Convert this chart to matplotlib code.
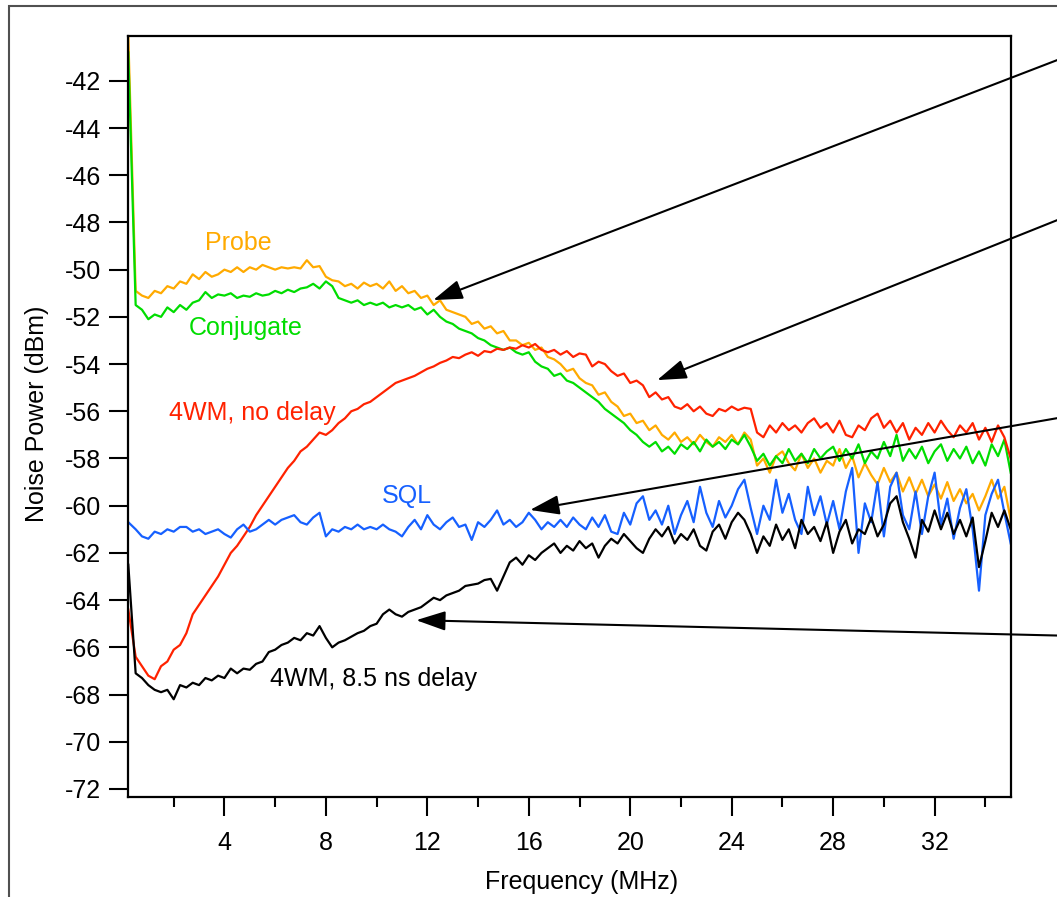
import matplotlib
matplotlib.use("Agg")
import matplotlib.pyplot as plt
from matplotlib.ticker import MultipleLocator

plt.rcParams['font.family'] = ['Liberation Sans', 'DejaVu Sans']
plt.rcParams['axes.unicode_minus'] = False

# frequency grid (MHz): first sample, then every 0.25 MHz
freq = [0.21, 0.5, 0.75,
        1.0, 1.25, 1.5, 1.75, 2.0, 2.25, 2.5, 2.75, 3.0, 3.25, 3.5, 3.75,
        4.0, 4.25, 4.5, 4.75, 5.0, 5.25, 5.5, 5.75, 6.0, 6.25, 6.5, 6.75,
        7.0, 7.25, 7.5, 7.75, 8.0, 8.25, 8.5, 8.75, 9.0, 9.25, 9.5, 9.75,
        10.0, 10.25, 10.5, 10.75, 11.0, 11.25, 11.5, 11.75, 12.0, 12.25, 12.5, 12.75,
        13.0, 13.25, 13.5, 13.75, 14.0, 14.25, 14.5, 14.75, 15.0, 15.25, 15.5, 15.75,
        16.0, 16.25, 16.5, 16.75, 17.0, 17.25, 17.5, 17.75, 18.0, 18.25, 18.5, 18.75,
        19.0, 19.25, 19.5, 19.75, 20.0, 20.25, 20.5, 20.75, 21.0, 21.25, 21.5, 21.75,
        22.0, 22.25, 22.5, 22.75, 23.0, 23.25, 23.5, 23.75, 24.0, 24.25, 24.5, 24.75,
        25.0, 25.25, 25.5, 25.75, 26.0, 26.25, 26.5, 26.75, 27.0, 27.25, 27.5, 27.75,
        28.0, 28.25, 28.5, 28.75, 29.0, 29.25, 29.5, 29.75, 30.0, 30.25, 30.5, 30.75,
        31.0, 31.25, 31.5, 31.75, 32.0, 32.25, 32.5, 32.75, 33.0, 33.25, 33.5, 33.75,
        34.0, 34.25, 34.5, 34.75, 35.0]

probe = [-40.1, -50.9, -51.1,
         -51.2, -50.9, -51.0, -50.7,
         -50.8, -50.5, -50.6, -50.2,
         -50.4, -50.1, -50.3, -50.2,
         -50.0, -50.1, -49.9, -50.1,
         -49.9, -50.0, -49.8, -49.9,
         -50.0, -49.9, -49.95, -49.9,
         -49.95, -49.6, -49.9, -49.85,
         -50.3, -50.45, -50.5, -50.7,
         -50.6, -50.8, -50.55, -50.7,
         -50.6, -50.8, -50.5, -50.9,
         -50.7, -51.0, -50.9, -51.2,
         -51.1, -51.5, -51.3, -51.7,
         -51.8, -51.9, -52.0, -52.3,
         -52.2, -52.5, -52.4, -52.7,
         -52.6, -53.0, -53.0, -53.2,
         -53.1, -53.4, -53.3, -53.7,
         -53.8, -54.0, -54.3, -54.2,
         -54.6, -54.8, -54.9, -55.3,
         -55.2, -55.6, -55.8, -56.2,
         -56.1, -56.5, -56.4, -56.8,
         -56.6, -57.0, -57.2, -56.9,
         -57.3, -57.1, -57.4, -57.0,
         -57.3, -57.5, -57.1, -57.3,
         -57.0, -57.4, -56.9, -57.2,
         -58.3, -58.0, -58.6, -57.9,
         -57.7, -58.2, -58.5, -57.8,
         -58.4, -58.0, -58.6, -58.1,
         -58.3, -57.6, -58.4, -57.9,
         -58.8, -58.2, -58.7, -59.1,
         -58.4, -59.0, -58.6, -59.4,
         -58.8, -59.5, -58.9, -59.6,
         -59.1, -59.7, -59.0, -59.8,
         -59.3, -59.9, -59.5, -60.2,
         -59.6, -58.9, -59.7, -59.2,
         -60.6]

conjugate = [-40.8, -51.5, -51.7,
             -52.1, -51.9, -52.0, -51.6,
             -51.8, -51.5, -51.7, -51.4,
             -51.3, -50.95, -51.2, -51.05,
             -51.1, -51.0, -51.2, -51.1,
             -51.15, -51.0, -51.1, -51.05,
             -50.9, -51.0, -50.85, -50.95,
             -50.8, -50.75, -50.6, -50.8,
             -50.5, -50.7, -51.2, -51.3,
             -51.4, -51.3, -51.5, -51.4,
             -51.5, -51.4, -51.6, -51.5,
             -51.6, -51.5, -51.7, -51.6,
             -51.9, -51.7, -52.0, -52.2,
             -52.3, -52.5, -52.6, -52.7,
             -52.9, -53.0, -53.2, -53.3,
             -53.4, -53.3, -53.5, -53.6,
             -53.5, -53.9, -54.1, -54.2,
             -54.5, -54.4, -54.7, -54.8,
             -55.0, -55.2, -55.4, -55.6,
             -55.9, -56.1, -56.3, -56.5,
             -56.8, -57.0, -57.3, -57.5,
             -57.3, -57.7, -57.5, -57.8,
             -57.4, -57.6, -57.3, -57.7,
             -57.2, -57.5, -57.3, -57.6,
             -57.2, -57.4, -57.0, -57.5,
             -58.1, -57.8, -58.3, -57.9,
             -58.2, -57.6, -58.1, -57.8,
             -58.2, -57.6, -58.0, -57.7,
             -57.5, -58.1, -57.6, -58.0,
             -57.4, -58.2, -57.7, -58.0,
             -57.3, -57.9, -57.0, -58.1,
             -57.6, -58.0, -57.5, -58.2,
             -57.7, -57.4, -58.1, -57.6,
             -58.0, -57.5, -58.2, -57.7,
             -58.3, -57.4, -57.9, -57.2,
             -58.6]

fwm_no_delay = [-64.4, -66.4, -66.8,
                -67.2, -67.35, -66.8, -66.6,
                -66.1, -65.9, -65.4, -64.6,
                -64.2, -63.8, -63.4, -63.0,
                -62.5, -62.0, -61.7, -61.3,
                -60.9, -60.4, -60.0, -59.6,
                -59.2, -58.8, -58.4, -58.1,
                -57.7, -57.5, -57.2, -56.9,
                -57.0, -56.8, -56.5, -56.3,
                -56.0, -55.9, -55.7, -55.6,
                -55.4, -55.2, -55.0, -54.8,
                -54.7, -54.6, -54.5, -54.35,
                -54.2, -54.1, -53.95, -53.85,
                -53.7, -53.75, -53.6, -53.5,
                -53.65, -53.45, -53.5, -53.35,
                -53.4, -53.3, -53.35, -53.2,
                -53.3, -53.15, -53.4, -53.5,
                -53.4, -53.6, -53.45, -53.7,
                -53.55, -53.6, -54.1, -53.9,
                -54.0, -54.3, -54.5, -54.4,
                -54.8, -54.7, -54.9, -55.4,
                -55.2, -55.5, -55.4, -55.8,
                -55.9, -55.7, -56.0, -55.8,
                -56.1, -56.2, -55.9, -56.0,
                -55.8, -55.95, -55.85, -55.9,
                -56.9, -57.1, -56.6, -56.9,
                -56.5, -56.8, -56.6, -56.9,
                -56.5, -56.3, -56.7, -56.5,
                -56.9, -56.4, -57.0, -57.1,
                -56.6, -56.8, -56.3, -56.1,
                -56.7, -56.4, -56.9, -56.5,
                -57.2, -56.7, -57.0, -56.5,
                -56.9, -56.4, -56.8, -57.1,
                -56.6, -56.9, -56.5, -57.2,
                -56.7, -57.3, -56.6, -57.1,
                -58.0]

sql = [-60.7, -61.0, -61.3,
       -61.4, -61.1, -61.2, -61.0,
       -61.1, -60.9, -60.9, -61.1,
       -61.0, -61.2, -61.1, -61.0,
       -61.2, -61.35, -61.0, -60.8,
       -61.1, -61.0, -60.8, -60.6,
       -60.8, -60.6, -60.5, -60.4,
       -60.7, -60.8, -60.5, -60.3,
       -61.3, -61.0, -61.1, -60.9,
       -61.0, -60.8, -61.0, -60.9,
       -61.0, -60.8, -61.0, -61.1,
       -61.3, -60.9, -60.6, -61.0,
       -60.4, -60.8, -61.0, -60.7,
       -60.5, -60.9, -60.8, -61.45,
       -60.7, -60.9, -60.6, -60.2,
       -60.8, -60.6, -60.9, -60.7,
       -60.3, -60.6, -61.0, -60.7,
       -60.9, -60.6, -60.9, -60.5,
       -60.8, -61.0, -60.5, -60.9,
       -60.4, -61.1, -61.2, -60.3,
       -60.8, -59.9, -59.6, -60.6,
       -60.2, -60.8, -60.0, -61.2,
       -60.4, -59.8, -60.7, -59.2,
       -60.3, -60.9, -59.8, -60.5,
       -60.0, -59.3, -58.9, -60.1,
       -61.2, -60.0, -60.6, -58.9,
       -60.3, -59.5, -60.6, -61.2,
       -59.2, -60.4, -59.6, -60.8,
       -59.8, -61.0, -59.4, -58.4,
       -62.0, -59.9, -60.7, -59.0,
       -61.3, -59.2, -58.6, -60.4,
       -61.0, -59.4, -61.2, -59.6,
       -58.6, -60.8, -59.7, -61.4,
       -60.1, -59.3, -61.0, -63.6,
       -60.4, -59.5, -58.9, -60.3,
       -61.6]

fwm_delay = [-62.5, -67.1, -67.3,
             -67.6, -67.8, -67.9, -67.8,
             -68.2, -67.6, -67.7, -67.5,
             -67.6, -67.3, -67.4, -67.2,
             -67.3, -66.9, -67.1, -66.9,
             -66.95, -66.7, -66.6, -66.2,
             -66.1, -65.9, -65.8, -65.6,
             -65.7, -65.4, -65.5, -65.1,
             -65.6, -66.0, -65.8, -65.7,
             -65.55, -65.4, -65.3, -65.1,
             -65.0, -64.6, -64.4, -64.6,
             -64.7, -64.5, -64.4, -64.3,
             -64.1, -63.9, -64.0, -63.8,
             -63.7, -63.6, -63.4, -63.35,
             -63.3, -63.15, -63.1, -63.6,
             -63.0, -62.4, -62.2, -62.5,
             -62.1, -62.3, -62.0, -61.8,
             -61.6, -62.0, -61.7, -61.9,
             -61.5, -61.8, -61.6, -62.2,
             -61.7, -61.4, -61.6, -61.2,
             -61.5, -61.8, -62.0, -61.4,
             -61.0, -61.3, -60.9, -61.6,
             -61.2, -61.45, -61.0, -61.7,
             -61.9, -61.1, -60.8, -61.4,
             -60.7, -60.3, -60.6, -61.2,
             -62.0, -61.3, -61.7, -60.8,
             -61.45, -61.0, -61.8, -60.6,
             -61.2, -60.9, -61.5, -60.7,
             -62.0, -61.1, -60.6, -61.6,
             -61.0, -61.2, -60.5, -61.3,
             -60.8, -59.9, -59.6, -60.7,
             -61.4, -62.2, -60.6, -61.1,
             -60.2, -61.0, -60.3, -61.2,
             -60.6, -61.3, -60.5, -62.6,
             -61.5, -60.3, -60.9, -60.2,
             -61.0]

fig = plt.figure(figsize=(10.57, 8.97), dpi=100)
ax = fig.add_axes([128.3 / 1057, 1 - 797 / 897, (1010.7 - 128.3) / 1057, (797 - 35.7) / 897])

lw = 1.6
ax.plot(freq, probe, color='#FFAA00', lw=lw)
ax.plot(freq, conjugate, color='#00DD00', lw=lw)
ax.plot(freq, fwm_no_delay, color='#FF2200', lw=lw)
ax.plot(freq, sql, color='#1660FF', lw=lw)
ax.plot(freq, fwm_delay, color='black', lw=lw)

ax.set_xlim(0.21, 35.0)
ax.set_ylim(-72.34, -40.09)
ax.set_xticks([4, 8, 12, 16, 20, 24, 28, 32])
ax.xaxis.set_minor_locator(MultipleLocator(2))
ax.set_yticks(range(-72, -41, 2))
ax.tick_params(axis='both', which='major', direction='out', length=13.5, width=1.5,
               labelsize=18)
ax.tick_params(axis='x', which='minor', direction='out', length=7, width=1.5)
ax.tick_params(axis='x', which='major', pad=11)
ax.tick_params(axis='y', which='major', pad=6)
for s in ax.spines.values():
    s.set_linewidth(1.6)

# curve labels
ax.text(4.54, -48.87, "Probe", color='#FFAA00', fontsize=18, ha='center', va='center')
ax.text(4.82, -52.47, "Conjugate", color='#00DD00', fontsize=18, ha='center', va='center')
ax.text(5.09, -56.07, "4WM, no delay", color='#FF2200', fontsize=18, ha='center', va='center')
ax.text(11.2, -59.59, "SQL", color='#1660FF', fontsize=18, ha='center', va='center')
ax.text(9.86, -67.34, "4WM, 8.5 ns delay", color='black', fontsize=18, ha='center', va='center')

# arrows coming in from outside the plot
arrows = [((12.23, -51.29), (36.84, -41.12)),
          ((21.06, -54.68), (36.84, -47.90)),
          ((16.05, -60.18), (36.84, -56.29)),
          ((11.56, -64.85), (36.84, -65.50))]
for tip, start in arrows:
    ax.annotate("", xy=tip, xytext=start, annotation_clip=False,
                arrowprops=dict(arrowstyle='-|>,head_length=0.6,head_width=0.2',
                                color='black', lw=1.5,
                                mutation_scale=30, shrinkA=0, shrinkB=0))

fig.text(582 / 1057, 1 - 882 / 897, "Frequency (MHz)", fontsize=18, ha='center', va='center')
fig.text(37 / 1057, 1 - 414 / 897, "Noise Power (dBm)", fontsize=18, ha='center', va='center',
         rotation=90)

# outer frame
fig.add_artist(plt.Rectangle((9 / 1057, -0.1), 1.2, 1.1 - 6 / 897, transform=fig.transFigure,
                             fill=False, ec='#505050', lw=1.5))

fig.savefig("out.png", dpi=100)
